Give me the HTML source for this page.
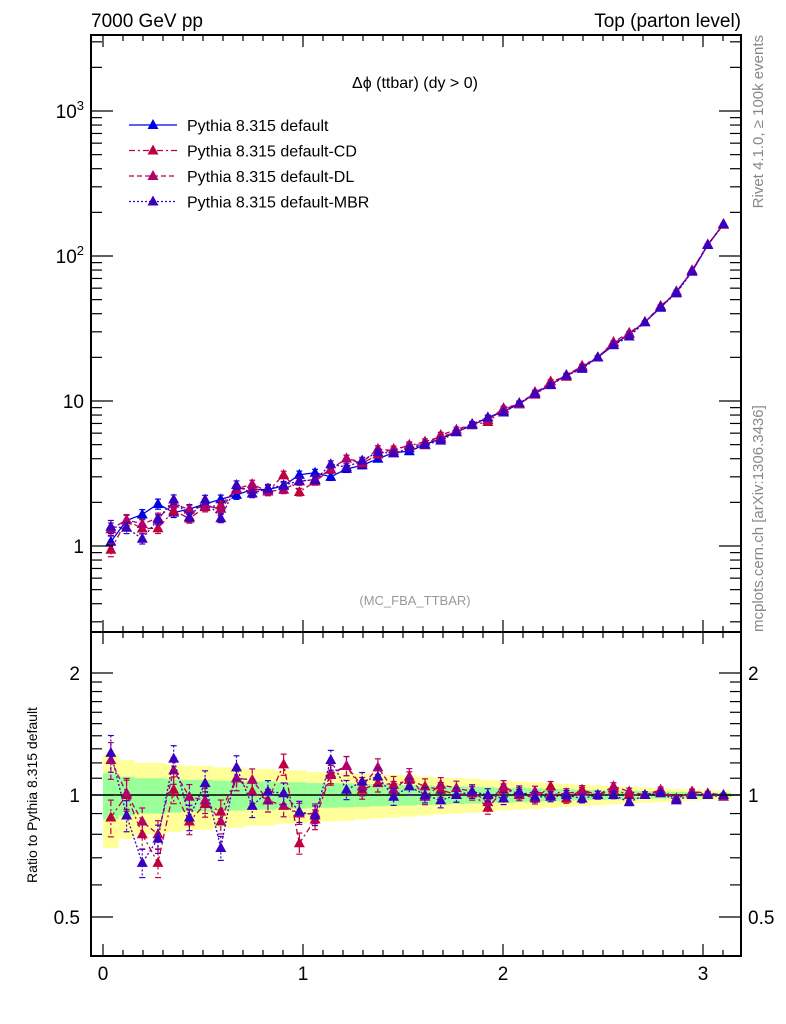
<!DOCTYPE html>
<html><head><meta charset="utf-8"><style>
body{margin:0;background:#fff;}
svg{display:block;font-family:"Liberation Sans",sans-serif;}
</style></head><body>
<svg id="chart" width="786" height="1024" viewBox="0 0 786 1024" xmlns="http://www.w3.org/2000/svg">
<text x="91" y="27" font-size="19">7000 GeV pp</text>
<text x="741" y="27" font-size="19" text-anchor="end">Top (parton level)</text>
<text transform="translate(763,35) rotate(-90)" font-size="15" fill="#888" text-anchor="end">Rivet 4.1.0, ≥ 100k events</text>
<text transform="translate(763,632) rotate(-90)" font-size="15" fill="#888">mcplots.cern.ch [arXiv:1306.3436]</text>
<text x="415" y="88" font-size="16" text-anchor="middle">Δϕ (ttbar) (dy &gt; 0)</text>
<text x="415" y="605" font-size="13" fill="#999" text-anchor="middle">(MC_FBA_TTBAR)</text>
<text transform="translate(37,795) rotate(-90)" font-size="14" text-anchor="middle">Ratio to Pythia 8.315 default</text>
<g id="bands"></g><g id="series"></g><g id="axes"></g><g id="legend"></g>
</svg>
<script>
const categories=[];for(let i=0;i<40;i++)categories.push((i+0.5)*Math.PI/40);
const defaultVals=[1.07,1.5,1.65,1.95,1.7,1.8,1.95,2.1,2.25,2.45,2.45,2.6,3.1,3.2,3.0,3.4,3.6,4.0,4.4,4.5,5.0,5.5,6.1,6.8,7.7,8.5,9.5,11.3,13,15,17,20,24.3,29,35,44,57,78,119,166];
const ratioCD=[0.88,1.0,0.80,0.68,1.03,0.86,0.95,0.91,1.10,1.02,0.97,1.19,0.76,0.87,1.12,1.18,1.03,1.07,1.06,1.09,1.05,1.03,1.0,1.01,0.93,1.03,1.01,0.98,1.05,0.98,1.03,1.0,1.03,1.0,1.0,1.02,0.98,1.02,1.0,0.99];
const ratioDL=[1.22,1.01,0.86,0.8,1.15,0.99,0.97,0.86,1.10,1.09,0.97,0.94,0.9,0.9,1.13,1.18,1.05,1.17,1.03,1.11,0.99,1.06,1.04,1.02,0.96,1.05,1.0,1.02,1.0,1.01,1.02,1.0,1.05,1.02,1.0,1.03,0.98,1.02,1.01,1.0];
const ratioMBR=[1.27,0.89,0.68,0.78,1.23,0.88,1.07,0.74,1.17,0.94,1.02,1.01,0.91,0.89,1.22,1.03,1.08,1.11,0.99,1.05,1.0,0.97,1.0,1.02,1.0,0.98,1.02,0.99,0.99,1.0,0.98,1.0,1.0,0.96,1.0,1.01,0.97,1.0,1.0,1.0];
const relErr=[0.13,0.11,0.1,0.1,0.095,0.09,0.09,0.085,0.085,0.08,0.08,0.075,0.075,0.07,0.07,0.068,0.065,0.062,0.06,0.058,0.055,0.052,0.05,0.048,0.045,0.042,0.04,0.038,0.035,0.033,0.03,0.028,0.026,0.024,0.022,0.02,0.018,0.016,0.014,0.012];
const yTickLabels=["1","10","10²","10³"];
const ratioTickLabels=["0.5","1","2"];
const xTickLabels=["0","1","2","3"];

const NS="http://www.w3.org/2000/svg";
const L=91,R=741,T=35,MB=632,B=956;
const X=v=>103+200*v;
const Y=v=>546-145*Math.log10(v);
const RY=v=>795-122*Math.log2(v);
function el(tag,attrs,parent){const e=document.createElementNS(NS,tag);for(const k in attrs)e.setAttribute(k,attrs[k]);parent.appendChild(e);return e;}
const bw=Math.PI/40;
const bands=document.getElementById('bands');
const clipM=el('clipPath',{id:'cm'},document.getElementById('chart'));el('rect',{x:L,y:T,width:R-L,height:MB-T},clipM);
const clipR=el('clipPath',{id:'cr'},document.getElementById('chart'));el('rect',{x:L,y:MB,width:R-L,height:B-MB},clipR);
categories.forEach((c,i)=>{
 const x0=X(c-bw/2),w=X(c+bw/2)-x0;
 const y1=el('rect',{x:x0,y:RY(1+2*relErr[i]),width:w,height:RY(1-2*relErr[i])-RY(1+2*relErr[i]),fill:'#ffff99'},bands);
 
 
 const g1=el('rect',{x:x0,y:RY(1+relErr[i]),width:w,height:RY(1-relErr[i])-RY(1+relErr[i]),fill:'#99ff99'},bands);
 
 
});
el('line',{x1:L,x2:R,y1:RY(1),y2:RY(1),stroke:'#000','stroke-width':1.5},bands);
const seriesDefs=[
 {name:'default',color:'#0000e6',dash:'',r:null},
 {name:'default-cd',color:'#c0003c',dash:'6,3,2,3',r:ratioCD},
 {name:'default-dl',color:'#b0006a',dash:'5,3',r:ratioDL},
 {name:'default-mbr',color:'#3a00c0',dash:'2,2',r:ratioMBR}];
const sg=document.getElementById('series');
function tri(x,y,c,parent){const p=el('path',{d:`M${x},${y-6}L${x+5.5},${y+4}L${x-5.5},${y+4}Z`,fill:c},parent);return p;}
seriesDefs.forEach(s=>{
 const rr=s.r||defaultVals.map(()=>1);
 const gm=el('g',{'clip-path':'url(#cm)'},sg);
 
 
 const vals=categories.map((c,i)=>defaultVals[i]*rr[i]);
 el('polyline',{points:categories.map((c,i)=>X(c)+','+Y(vals[i])).join(' '),fill:'none',stroke:s.color,'stroke-width':1.3,'stroke-dasharray':s.dash},gm);
 let gr=null;
 if(s.r){
  gr=el('g',{'clip-path':'url(#cr)'},sg);
  
  
  el('polyline',{points:categories.map((c,i)=>X(c)+','+RY(rr[i])).join(' '),fill:'none',stroke:s.color,'stroke-width':1.3,'stroke-dasharray':s.dash},gr);
 }
 categories.forEach((c,i)=>{
  const x=X(c),e=relErr[i]*0.8;
  const ya=Y(vals[i]*(1+e)),yb=Y(vals[i]*(1-e));
  el('line',{x1:x,x2:x,y1:ya,y2:yb,stroke:s.color,'stroke-width':1.2,'stroke-dasharray':s.dash},gm);
  el('line',{x1:x-3,x2:x+3,y1:ya,y2:ya,stroke:s.color,'stroke-width':1.2},gm);
  el('line',{x1:x-3,x2:x+3,y1:yb,y2:yb,stroke:s.color,'stroke-width':1.2},gm);
  const m=tri(x,Y(vals[i]),s.color,gm);
  
  
  if(gr){
   const ra=RY(rr[i]*(1+e)),rb=RY(rr[i]*(1-e));
   el('line',{x1:x,x2:x,y1:ra,y2:rb,stroke:s.color,'stroke-width':1.2,'stroke-dasharray':s.dash},gr);
   el('line',{x1:x-3,x2:x+3,y1:ra,y2:ra,stroke:s.color,'stroke-width':1.2},gr);
   el('line',{x1:x-3,x2:x+3,y1:rb,y2:rb,stroke:s.color,'stroke-width':1.2},gr);
   const m2=tri(x,RY(rr[i]),s.color,gr);
   
   
  }
 });
});
const ax=document.getElementById('axes');
const f1=el('rect',{x:L,y:T,width:R-L,height:MB-T,fill:'none',stroke:'#000','stroke-width':2},ax);

const f2=el('rect',{x:L,y:MB,width:R-L,height:B-MB,fill:'none',stroke:'#000','stroke-width':2},ax);

const tk=(x1,y1,x2,y2)=>el('line',{x1,y1,x2,y2,stroke:'#000','stroke-width':1.2},ax);
for(let k=0;k<=31;k++){const v=k/10,x=X(v);if(x>R)break;const len=k%10==0?12:6;
 tk(x,MB,x,MB-len);tk(x,T,x,T+len);tk(x,B,x,B-len);tk(x,MB,x,MB+len);}
xTickLabels.forEach((t,i)=>{const e=el('text',{x:X(i),y:980,'font-size':19,'text-anchor':'middle'},ax);e.textContent=t;
 });
for(let d=-1;d<=3;d++)for(let m=1;m<10;m++){const v=m*Math.pow(10,d),y=Y(v);if(y<T||y>MB)continue;const len=m==1?22:11;tk(L,y,L+len,y);tk(R,y,R-len,y);}
yTickLabels.forEach((t,i)=>{const e=el('text',{x:84,y:Y(Math.pow(10,i))+7,'font-size':19,'text-anchor':'end'},ax);
 if(i>=2){e.textContent='10';const s=el('tspan',{dy:-8,'font-size':13},e);s.textContent=String(i);}else e.textContent=t;
 });
for(let k=4;k<=20;k++){const v=k/10;const y=RY(v);if(y<MB||y>B)continue;
 const major=(k==5||k==10||k==20);const len=major?22:11;tk(L,y,L+len,y);tk(R,y,R-len,y);}
ratioTickLabels.forEach((t,i)=>{const v=[0.5,1,2][i];
 const a=el('text',{x:80,y:RY(v)+7,'font-size':19,'text-anchor':'end'},ax);a.textContent=t;
 
 const b=el('text',{x:748,y:RY(v)+7,'font-size':19},ax);b.textContent=t;
 });
const lg=document.getElementById('legend');
const names=["Pythia 8.315 default","Pythia 8.315 default-CD","Pythia 8.315 default-DL","Pythia 8.315 default-MBR"];
seriesDefs.forEach((s,i)=>{const y=125+25.5*i;
 const g=el('g',{},lg);
 
 
 el('line',{x1:129,x2:177,y1:y,y2:y,stroke:s.color,'stroke-width':1.3,'stroke-dasharray':s.dash},g);
 tri(153,y,s.color,g);
 const t=el('text',{x:187,y:y+6,'font-size':16},g);t.textContent=names[i];});
</script>
</body></html>
